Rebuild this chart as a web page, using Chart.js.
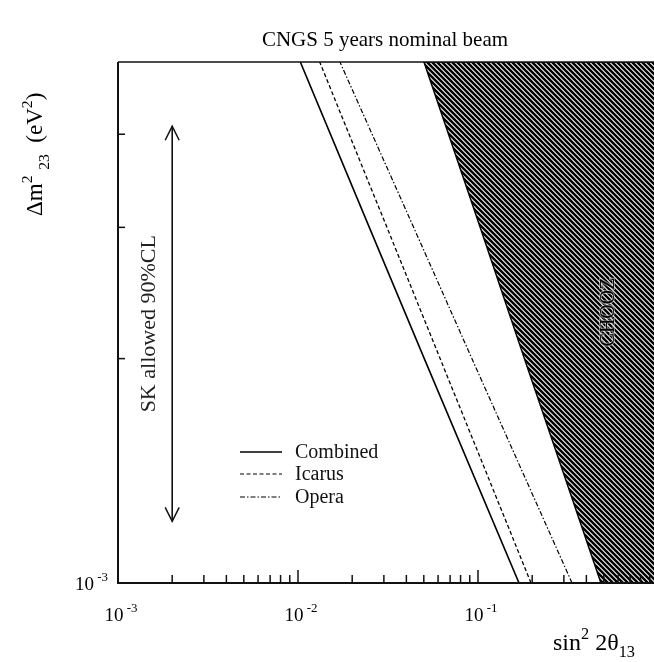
<!DOCTYPE html>
<html>
<head>
<meta charset="utf-8">
<script src="https://cdn.jsdelivr.net/npm/chart.js@4.4.1/dist/chart.umd.min.js"></script>
<style>
  html, body { margin: 0; padding: 0; background: #fff; overflow: hidden; }
  #wrap { width: 654px; height: 662px; overflow: hidden; }
</style>
</head>
<body>
<div id="wrap"><canvas id="c" width="658" height="662"></canvas></div>
<script>
// delta m^2_23 values (eV^2) where the curves are sampled
const dm2 = [1e-3, 2e-3, 3e-3, 5e-3];
// sin^2 2theta13 sensitivity (90% CL) for each dm2
const combined = [0.169, 0.0503, 0.0249, 0.0103];
const icarus = [0.197, 0.0616, 0.0312, 0.0132];
const opera = [0.333, 0.0925, 0.0439, 0.0171];
// CHOOZ excluded region boundary
const chooz = [0.482, 0.181, 0.1028, 0.0501];
// SK allowed 90% CL band (drawn as an arrow)
const skX = 2e-3;
const skRange = [1.21e-3, 4.1e-3];

const xTicksMajor = [1e-3, 1e-2, 1e-1];
const yTicks = [2e-3, 3e-3, 4e-3];

const SERIF = '"Liberation Serif", "DejaVu Serif", serif';

function pts(xs, ys) {
  return xs.map((x, i) => ({ x: x, y: ys[i] }));
}

// hatch pattern for the CHOOZ region
function hatch() {
  const s = 5;
  const c = document.createElement('canvas');
  c.width = s; c.height = s;
  const g = c.getContext('2d');
  g.strokeStyle = '#000';
  g.lineWidth = 2.5;
  g.beginPath();
  g.moveTo(-1, -1); g.lineTo(s + 1, s + 1);
  g.moveTo(-s - 1, -1); g.lineTo(1, s + 1);
  g.moveTo(s - 1, -1); g.lineTo(2 * s + 1, s + 1);
  g.stroke();
  return g.createPattern(c, 'repeat');
}

const ctx0 = document.getElementById('c').getContext('2d');

const choozPoly = pts(chooz, dm2).reverse();
choozPoly.unshift({ x: 1.2, y: 5e-3 });
choozPoly.push({ x: 1.2, y: 1e-3 });

// draw text runs with super/subscripts
function richText(ctx, x, y, runs, size) {
  let cx = x;
  runs.forEach(r => {
    const t = r[0], kind = r[1] || '';
    const fs = kind ? size * 0.68 : size;
    const dy = kind === 'sup' ? -size * 0.45 : kind === 'sub' ? size * 0.3 : 0;
    ctx.font = fs + 'px ' + SERIF;
    ctx.fillText(t, cx, y + dy);
    cx += ctx.measureText(t).width;
  });
  return cx - x;
}
function richWidth(ctx, runs, size) {
  let w = 0;
  runs.forEach(r => {
    const fs = r[1] ? size * 0.68 : size;
    ctx.font = fs + 'px ' + SERIF;
    w += ctx.measureText(r[0]).width;
  });
  return w;
}

const decor = {
  id: 'decor',
  afterDatasetsDraw(chart) {
    const ctx = chart.ctx;
    const xs = chart.scales.x, ys = chart.scales.y;
    const a = chart.chartArea;
    ctx.save();
    ctx.fillStyle = '#000';
    ctx.strokeStyle = '#111';

    // frame
    ctx.lineWidth = 2;
    ctx.beginPath();
    ctx.moveTo(a.left, a.top); ctx.lineTo(a.left, a.bottom); ctx.lineTo(a.right, a.bottom);
    ctx.stroke();
    ctx.lineWidth = 1.5;
    ctx.beginPath();
    ctx.moveTo(a.left, a.top); ctx.lineTo(a.right, a.top);
    ctx.stroke();

    // x ticks (inward)
    ctx.lineWidth = 1.5;
    for (let d = -3; d < 0; d++) {
      for (let m = 1; m <= 9; m++) {
        if (d === -3 && m === 1) continue;
        const v = m * Math.pow(10, d);
        const px = xs.getPixelForValue(v);
        const len = m === 1 ? 13 : 8;
        ctx.beginPath();
        ctx.moveTo(px, a.bottom); ctx.lineTo(px, a.bottom - len);
        ctx.stroke();
      }
    }
    // y ticks
    yTicks.forEach(v => {
      const py = ys.getPixelForValue(v);
      ctx.beginPath();
      ctx.moveTo(a.left, py); ctx.lineTo(a.left + 7, py);
      ctx.stroke();
    });

    // tick labels
    ctx.textBaseline = 'alphabetic';
    ctx.textAlign = 'left';
    xTicksMajor.forEach(v => {
      const px = xs.getPixelForValue(v);
      const runs = [['10'], [' ' + Math.round(Math.log10(v)), 'sup']];
      const w = richWidth(ctx, runs, 19);
      richText(ctx, px - w / 2 + 3, a.bottom + 38, runs, 19);
    });
    {
      const runs = [['10'], [' -3', 'sup']];
      const w = richWidth(ctx, runs, 19);
      richText(ctx, a.left - w - 10, a.bottom + 7, runs, 19);
    }

    // title
    ctx.font = '21px ' + SERIF;
    ctx.textAlign = 'center';
    ctx.fillText('CNGS 5 years nominal beam', 385, 46);

    // x axis title
    ctx.textAlign = 'left';
    richText(ctx, 553, 650, [['sin'], ['2', 'sup'], [' 2\u03b8'], ['13', 'sub']], 24);

    // y axis title (rotated)
    ctx.save();
    ctx.translate(42, 216);
    ctx.rotate(-Math.PI / 2);
    richText(ctx, 0, 0, [['\u0394m'], ['2', 'sup'], [' ', ''], ['23', 'sub'], ['  (eV'], ['2', 'sup'], [')']], 23);
    ctx.restore();

    // SK arrow heads
    const ax = xs.getPixelForValue(skX);
    const yTop = ys.getPixelForValue(skRange[1]);
    const yBot = ys.getPixelForValue(skRange[0]);
    ctx.lineWidth = 1.5;
    ctx.beginPath();
    ctx.moveTo(ax - 7, yTop + 14); ctx.lineTo(ax, yTop); ctx.lineTo(ax + 7, yTop + 14);
    ctx.moveTo(ax - 7, yBot - 14); ctx.lineTo(ax, yBot); ctx.lineTo(ax + 7, yBot - 14);
    ctx.stroke();

    // SK text
    ctx.save();
    ctx.translate(ax - 17, (yTop + yBot) / 2);
    ctx.rotate(-Math.PI / 2);
    ctx.font = '22px ' + SERIF;
    ctx.textAlign = 'center';
    ctx.fillStyle = '#222';
    ctx.fillText('SK allowed 90%CL', 0, 0);
    ctx.restore();

    // CHOOZ label inside hatch
    ctx.save();
    ctx.translate(614, 312);
    ctx.rotate(-Math.PI / 2);
    ctx.font = '20px ' + SERIF;
    ctx.textAlign = 'center';
    ctx.lineWidth = 2;
    ctx.strokeStyle = 'rgba(255,255,255,0.5)';
    ctx.strokeText('CHOOZ', 0, 0);
    ctx.fillStyle = '#000';
    ctx.fillText('CHOOZ', 0, 0);
    ctx.restore();

    // legend
    const rows = [
      { label: 'Combined', dash: [], y: 452 },
      { label: 'Icarus', dash: [4, 2.5], y: 474 },
      { label: 'Opera', dash: [5, 2, 1.5, 2], y: 497 }
    ];
    ctx.textAlign = 'left';
    ctx.font = '20px ' + SERIF;
    rows.forEach(r => {
      ctx.setLineDash(r.dash);
      ctx.lineWidth = r.dash.length ? 1.2 : 1.6;
      ctx.strokeStyle = '#000';
      ctx.beginPath();
      ctx.moveTo(240, r.y); ctx.lineTo(282, r.y);
      ctx.stroke();
      ctx.setLineDash([]);
      ctx.fillStyle = '#111';
      ctx.fillText(r.label, 295, r.y + 6);
    });

    ctx.restore();
  }
};

new Chart(ctx0, {
  type: 'scatter',
  data: {
    datasets: [
      {
        label: 'CHOOZ',
        data: choozPoly,
        showLine: true,
        fill: 'shape',
        backgroundColor: hatch(),
        borderColor: '#000',
        borderWidth: 1.5,
        pointRadius: 0,
        tension: 0
      },
      {
        label: 'Combined',
        data: pts(combined, dm2),
        showLine: true,
        borderColor: '#000',
        borderWidth: 1.6,
        pointRadius: 0
      },
      {
        label: 'Icarus',
        data: pts(icarus, dm2),
        showLine: true,
        borderColor: '#000',
        borderWidth: 1.3,
        borderDash: [4, 2.5],
        pointRadius: 0
      },
      {
        label: 'Opera',
        data: pts(opera, dm2),
        showLine: true,
        borderColor: '#000',
        borderWidth: 1.2,
        borderDash: [5, 2, 1.5, 2],
        pointRadius: 0
      },
      {
        label: 'SK',
        data: [{ x: skX, y: skRange[0] }, { x: skX, y: skRange[1] }],
        showLine: true,
        borderColor: '#000',
        borderWidth: 1.5,
        pointRadius: 0
      }
    ]
  },
  options: {
    responsive: false,
    animation: false,
    layout: { padding: { left: 118, top: 62, right: 0, bottom: 79 } },
    plugins: { legend: { display: false }, tooltip: { enabled: false } },
    scales: {
      x: { type: 'logarithmic', min: 1e-3, max: 1, display: false },
      y: { type: 'logarithmic', min: 1e-3, max: 5e-3, display: false }
    }
  },
  plugins: [decor]
});
</script>
</body>
</html>
